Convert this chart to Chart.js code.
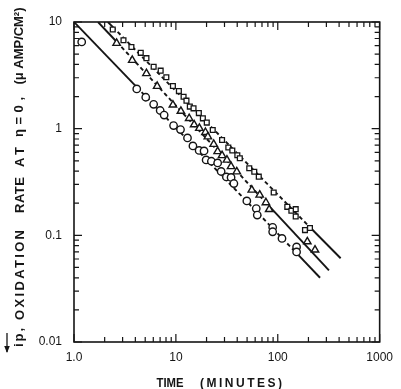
<!DOCTYPE html>
<html><head><meta charset="utf-8">
<script src="https://cdn.jsdelivr.net/npm/chart.js@4.4.1/dist/chart.umd.min.js"></script>
<style>html,body{margin:0;padding:0;background:#fff;}#wrap{width:401px;height:389px;}</style>
</head><body><div id="wrap"><canvas id="c" width="401" height="389"></canvas></div>
<script>
// ---- data (time in minutes, rate in µA/cm²) ----
const circleX = [1.19,4.13,5.06,6.05,7.01,7.67,9.49,11.1,13.0,14.7,16.9,18.9,19.8,22.3,25.7,27.8,31.3,34.8,37.1,49.7,61.5,62.9,89.1,89.1,110,153,153];
const circleY = [6.50,2.36,1.97,1.69,1.48,1.34,1.07,0.98,0.818,0.689,0.625,0.618,0.509,0.495,0.477,0.397,0.353,0.349,0.306,0.210,0.178,0.155,0.119,0.108,0.0935,0.0778,0.0699];
const triX = [2.62,3.73,5.14,6.55,9.35,11.2,13.5,15.1,17.0,19.5,20.6,23.5,25.7,28.4,31.7,34.8,39.6,55.6,66.5,76.5,82.4,195,232];
const triY = [6.33,4.38,3.29,2.50,1.67,1.46,1.25,1.09,1.01,0.925,0.841,0.714,0.611,0.561,0.509,0.442,0.395,0.266,0.239,0.203,0.175,0.0873,0.073];
const sqX = [2.40,3.06,3.66,4.52,5.14,6.05,7.09,8.06,9.35,10.7,11.9,12.7,13.7,14.9,16.8,18.4,20.1,23.0,28.4,32.7,35.8,40.1,42.4,52.5,58.8,65.1,91.2,124,136,150,150,185,207];
const sqY = [8.51,6.74,5.83,5.14,4.58,3.81,3.50,3.03,2.51,2.25,1.99,1.83,1.61,1.55,1.40,1.25,1.14,0.972,0.784,0.666,0.625,0.563,0.528,0.426,0.395,0.355,0.252,0.185,0.170,0.176,0.150,0.112,0.117];
// fitted lines: start, first data point, last data point, end
const line1X = [1.0,4.13,153,260];  const line1Y = [10,2.45,0.068,0.040];
const line2X = [1.72,2.62,82.4,318]; const line2Y = [10,6.53,0.1875,0.047];
const line3X = [2.15,2.40,207,414]; const line3Y = [10,8.99,0.119,0.061];
// axes
const xMajor = [1,10,100,1000]; const xLabels = ["1.0","10","100","1000"];
const yMajor = [0.01,0.1,1,10];  const yLabels = ["0.01","0.1","1","10"];
const minorMult = [2,3,4,5,6,7,8,9];

const pts = (xs,ys)=>xs.map((v,i)=>({x:v,y:ys[i]}));
const INK = '#151515';
const dashMid = {borderDash: c => c.p0DataIndex===1 ? [4,3] : undefined};

const frame = {
  id:'frame',
  beforeDraw(chart){const c=chart.ctx;c.save();c.fillStyle='#fff';c.fillRect(0,0,chart.width,chart.height);c.restore();},
  afterDraw(chart){
    const {ctx, chartArea:a, scales:{x,y}} = chart;
    ctx.save();
    ctx.strokeStyle=INK; ctx.lineWidth=1.6;
    ctx.strokeRect(a.left,a.top,a.right-a.left,a.bottom-a.top);
    ctx.lineWidth=1.2;
    ctx.beginPath();
    const xt=[], yt=[];
    for(let i=0;i<xMajor.length;i++){xt.push([xMajor[i],8]); if(i<xMajor.length-1) minorMult.forEach(m=>xt.push([xMajor[i]*m,5]));}
    for(let i=0;i<yMajor.length;i++){yt.push([yMajor[i],8]); if(i<yMajor.length-1) minorMult.forEach(m=>yt.push([yMajor[i]*m,5]));}
    xt.forEach(([v,l])=>{const p=x.getPixelForValue(v);ctx.moveTo(p,a.bottom);ctx.lineTo(p,a.bottom-l);ctx.moveTo(p,a.top);ctx.lineTo(p,a.top+l);});
    yt.forEach(([v,l])=>{const p=y.getPixelForValue(v);ctx.moveTo(a.left,p);ctx.lineTo(a.left+l,p);ctx.moveTo(a.right,p);ctx.lineTo(a.right-l,p);});
    ctx.stroke();
    // titles
    ctx.fillStyle=INK;
    ctx.textAlign='center'; ctx.textBaseline='middle';
    const fitText=(t,cx,cy,len,rot)=>{
      ctx.save(); ctx.translate(cx,cy); if(rot) ctx.rotate(-Math.PI/2);
      ctx.letterSpacing='0px';
      const w=ctx.measureText(t).width;
      if(len>w && t.length>1){
        const sp=(len-w)/(t.length-1);
        ctx.letterSpacing=sp.toFixed(2)+'px';
        ctx.fillText(t,sp/2,0);
      } else { ctx.scale(len/w,1); ctx.fillText(t,0,0); }
      ctx.restore();
    };
    ctx.font='bold 12px "Liberation Sans", Arial, sans-serif';
    fitText('TIME',170,384,27,false);
    fitText('(MINUTES)',241,384,82,false);
    ctx.font='bold 13px "Liberation Sans", Arial, sans-serif';
    fitText('(\u03BC AMP/CM\u00B2)',19,46,77,true);
    fitText('\u03B7=0,',19,117,40,true);
    fitText('AT',20,157,20,true);
    fitText('RATE',20,195,36,true);
    fitText('OXIDATION',20,275,90,true);
    fitText('ip,',19,337.5,19,true);
    // arrow above i
    ctx.lineWidth=1.3;
    ctx.beginPath(); ctx.moveTo(7,333); ctx.lineTo(7,352); ctx.stroke();
    ctx.beginPath(); ctx.moveTo(4.2,346); ctx.lineTo(7,353); ctx.lineTo(9.8,346); ctx.closePath(); ctx.fill();
    ctx.restore();
  }
};

const tickFont = {family:'"Liberation Sans", Arial, sans-serif', size:12};
new Chart(document.getElementById('c'), {
  type:'scatter',
  data:{datasets:[
    {data:pts(circleX,circleY), pointStyle:'circle', pointRadius:3.7, borderWidth:1.4, borderColor:INK, backgroundColor:'#fff', showLine:false, order:1},
    {data:pts(triX,triY), pointStyle:'triangle', pointRadius:4.3, borderWidth:1.4, borderColor:INK, backgroundColor:'#fff', showLine:false, order:1},
    {data:pts(sqX,sqY), pointStyle:'rect', pointRadius:3.4, borderWidth:1.3, borderColor:INK, backgroundColor:'#fff', showLine:false, order:1},
    {data:pts(line1X,line1Y), showLine:true, pointRadius:0, borderWidth:1.9, borderColor:INK, segment:dashMid, order:2},
    {data:pts(line2X,line2Y), showLine:true, pointRadius:0, borderWidth:1.9, borderColor:INK, segment:dashMid, order:2},
    {data:pts(line3X,line3Y), showLine:true, pointRadius:0, borderWidth:1.9, borderColor:INK, segment:dashMid, order:2}
  ]},
  options:{
    responsive:false, animation:false, devicePixelRatio:1,
    layout:{padding:{left:0,right:20,top:22,bottom:0}},
    plugins:{legend:{display:false}, tooltip:{enabled:false}},
    scales:{
      x:{type:'logarithmic', min:1, max:1000,
        afterBuildTicks:s=>{s.ticks=xMajor.map(v=>({value:v}));},
        afterFit:s=>{s.height=47;},
        ticks:{callback:(v,i)=>xLabels[i], font:tickFont, color:INK, padding:8, maxRotation:0, autoSkip:false},
        grid:{display:false, drawTicks:false}, border:{display:false}},
      y:{type:'logarithmic', min:0.01, max:10,
        afterBuildTicks:s=>{s.ticks=yMajor.map(v=>({value:v}));},
        afterFit:s=>{s.width=74;},
        ticks:{callback:(v,i)=>yLabels[i], font:tickFont, color:INK, padding:12, autoSkip:false},
        grid:{display:false, drawTicks:false}, border:{display:false}}
    }
  },
  plugins:[frame]
});
</script></body></html>
